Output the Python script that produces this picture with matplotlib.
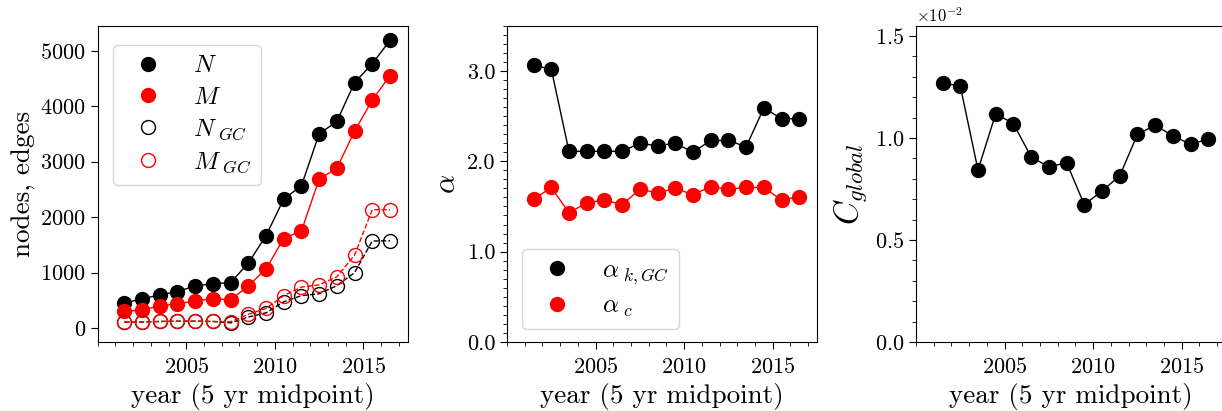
import matplotlib
matplotlib.use("Agg")
import matplotlib.pyplot as plt
from matplotlib.ticker import MultipleLocator, FixedLocator
from matplotlib.lines import Line2D

plt.rcParams['font.family'] = 'serif'
plt.rcParams['font.serif'] = ['cmr10']
plt.rcParams['mathtext.fontset'] = 'cm'
plt.rcParams['axes.formatter.use_mathtext'] = True
plt.rcParams['axes.unicode_minus'] = True

years = [2001.5, 2002.5, 2003.5, 2004.5, 2005.5, 2006.5, 2007.5, 2008.5,
         2009.5, 2010.5, 2011.5, 2012.5, 2013.5, 2014.5, 2015.5, 2016.5]

N = [450, 530, 595, 660, 760, 800, 820, 1170, 1665, 2325, 2565, 3500, 3725, 4425, 4765, 5185]
M = [300, 330, 400, 440, 487, 530, 510, 760, 1065, 1615, 1750, 2685, 2880, 3550, 4110, 4550]
N_GC = [110, 110, 120, 125, 125, 120, 95, 200, 275, 475, 585, 620, 765, 1000, 1570, 1575]
M_GC = [110, 110, 120, 125, 125, 120, 115, 250, 355, 585, 740, 780, 925, 1315, 2135, 2135]

alpha_k_GC = [3.06, 3.02, 2.11, 2.11, 2.11, 2.11, 2.20, 2.17, 2.20, 2.10, 2.23, 2.23, 2.16, 2.59, 2.47, 2.47]
alpha_c = [1.58, 1.71, 1.43, 1.54, 1.57, 1.52, 1.69, 1.65, 1.70, 1.63, 1.72, 1.69, 1.71, 1.71, 1.57, 1.61]

C_global = [0.01269, 0.01254, 0.00843, 0.01119, 0.01070, 0.00907, 0.00858, 0.00879,
            0.00673, 0.00740, 0.00814, 0.01017, 0.01063, 0.01009, 0.00970, 0.00993]

x_major_ticks = [2005, 2010, 2015]

W, H = 1222, 411
fig = plt.figure(figsize=(W / 100, H / 100), dpi=100)

bottom = 1 - 342 / H
height = (342 - 25.7) / H
width = 310 / W
ax1 = fig.add_axes([97.7 / W, bottom, width, height])
ax2 = fig.add_axes([507 / W, bottom, width, height])
ax3 = fig.add_axes([916 / W, bottom, width, height])

ms = 10
lw = 1
tick_fs = 16
label_fs = 19.5
leg_fs = 18

leg_kw = dict(fontsize=leg_fs, handlelength=2, handletextpad=0.8, borderpad=0.4,
              labelspacing=0.35, borderaxespad=0)

ax1.plot(years, N, '-o', color='black', ms=ms, lw=lw)
ax1.plot(years, M, '-o', color='red', ms=ms, lw=lw)
ax1.plot(years, N_GC, '--o', color='black', mfc='none', ms=ms, lw=lw)
ax1.plot(years, M_GC, '--o', color='red', mfc='none', ms=ms, lw=lw)
ax1.set_ylim(-250, 5450)
ax1.set_ylabel('nodes, edges', fontsize=label_fs)
h1 = [Line2D([], [], ls='none', marker='o', color='black', ms=ms),
      Line2D([], [], ls='none', marker='o', color='red', ms=ms),
      Line2D([], [], ls='none', marker='o', color='black', mfc='none', ms=ms),
      Line2D([], [], ls='none', marker='o', color='red', mfc='none', ms=ms)]
ax1.legend(h1, [r'$N$', r'$M$', r'$N_{\ GC}$', r'$M_{\ GC}$'], loc='upper left',
           bbox_to_anchor=(0.049, 0.939), **leg_kw)

ax2.plot(years, alpha_k_GC, '-o', color='black', ms=ms, lw=lw)
ax2.plot(years, alpha_c, '-o', color='red', ms=ms, lw=lw)
ax2.set_ylim(0, 3.5)
ax2.yaxis.set_major_locator(MultipleLocator(1.0))
ax2.yaxis.set_minor_locator(MultipleLocator(0.1))
ax2.yaxis.set_major_formatter(matplotlib.ticker.FormatStrFormatter('%.1f'))
ax2.set_ylabel(r'$\alpha$', fontsize=label_fs + 2)
h2 = [Line2D([], [], ls='none', marker='o', color='black', ms=ms),
      Line2D([], [], ls='none', marker='o', color='red', ms=ms)]
ax2.legend(h2, [r'$\alpha_{\ k,GC}$', r'$\alpha_{\ c}$'], loc='lower left',
           bbox_to_anchor=(0.048, 0.041), **leg_kw)

ax3.plot(years, C_global, '-o', color='black', ms=ms, lw=lw)
ax3.set_ylim(0, 0.0155)
ax3.yaxis.set_major_locator(MultipleLocator(0.005))
ax3.yaxis.set_minor_locator(MultipleLocator(0.001))
fmt = matplotlib.ticker.ScalarFormatter(useMathText=True)
fmt.set_powerlimits((-1, 1))
ax3.yaxis.set_major_formatter(fmt)
ax3.set_ylabel(r'$C_{global}$', fontsize=label_fs + 4)

for ax in (ax1, ax2, ax3):
    ax.set_xlim(2000, 2017.5)
    ax.xaxis.set_major_locator(FixedLocator(x_major_ticks))
    ax.xaxis.set_minor_locator(MultipleLocator(1))
    ax.set_xlabel('year (5 yr midpoint)', fontsize=label_fs)
    ax.tick_params(axis='both', which='major', labelsize=tick_fs, length=5, direction='out')
    ax.tick_params(axis='x', which='major', pad=6)
    ax.tick_params(axis='both', which='minor', length=3, direction='out')

ax3.yaxis.get_offset_text().set_fontsize(12)

fig.savefig('out.png', dpi=100)
